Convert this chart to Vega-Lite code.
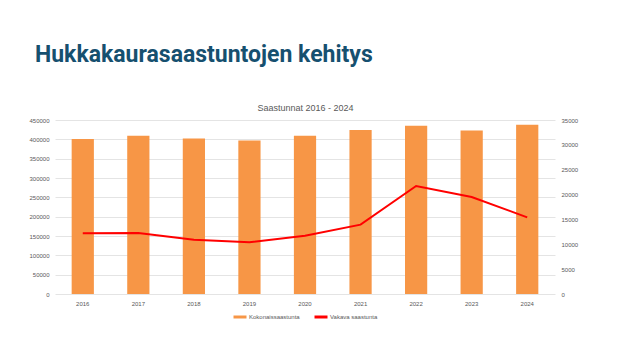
{
  "$schema": "https://vega.github.io/schema/vega-lite/v6.json",
  "background": "white",
  "padding": {"left": 28, "top": 44, "right": 10, "bottom": 10},
  "width": 500,
  "height": 174,
  "title": {
    "text": "Hukkakaurasaastuntojen kehitys",
    "anchor": "start",
    "frame": "bounds",
    "font": "Roboto",
    "fontSize": 23,
    "fontWeight": "bold",
    "color": "#16506F",
    "offset": 36,
    "dx": 6
  },
  "data": {
    "values": [
      {"vuosi": "2016", "kokonais": 401000, "vakava": 12200},
      {"vuosi": "2017", "kokonais": 409000, "vakava": 12270},
      {"vuosi": "2018", "kokonais": 402000, "vakava": 10930},
      {"vuosi": "2019", "kokonais": 397000, "vakava": 10390},
      {"vuosi": "2020", "kokonais": 409000, "vakava": 11730},
      {"vuosi": "2021", "kokonais": 424000, "vakava": 13950},
      {"vuosi": "2022", "kokonais": 435000, "vakava": 21720},
      {"vuosi": "2023", "kokonais": 423000, "vakava": 19510},
      {"vuosi": "2024", "kokonais": 438000, "vakava": 15420}
    ]
  },
  "layer": [
    {
      "mark": {"type": "bar", "color": "#F79646"},
      "encoding": {
        "x": {
          "field": "vuosi",
          "type": "ordinal",
          "title": null,
          "scale": {"paddingInner": 0.6, "paddingOuter": 0.3},
          "axis": {"labelAngle": 0, "domain": false, "ticks": false, "labelPadding": 6, "labelFontSize": 6, "labelColor": "#595959", "grid": false}
        },
        "y": {
          "field": "kokonais",
          "type": "quantitative",
          "title": null,
          "scale": {"domain": [0, 450000], "nice": false},
          "axis": {"values": [0, 50000, 100000, 150000, 200000, 250000, 300000, 350000, 400000, 450000], "format": "d", "domain": false, "ticks": false, "labelPadding": 6, "labelFontSize": 6, "labelColor": "#595959", "grid": true, "gridColor": "#E4E4E4"}
        },
        "color": {
          "datum": "Kokonaissaastunta",
          "type": "nominal",
          "scale": {"domain": ["Kokonaissaastunta", "Vakava saastunta"], "range": ["#F79646", "#FF0000"]},
          "legend": {
            "title": null,
            "orient": "bottom",
            "direction": "horizontal",
            "offset": 3,
            "labelFontSize": 6,
            "labelColor": "#595959",
            "symbolType": "stroke",
            "symbolSize": 169,
            "symbolStrokeWidth": 3,
            "columnPadding": 8,
            "labelOffset": 1
          }
        }
      }
    },
    {
      "mark": {"type": "line", "strokeWidth": 2},
      "encoding": {
        "x": {
          "field": "vuosi",
          "type": "ordinal",
          "axis": {"orient": "top", "labels": false, "ticks": false, "domain": false, "grid": false, "title": "Saastunnat 2016 - 2024", "titleFont": "Liberation Sans", "titleFontSize": 9, "titleFontWeight": "normal", "titleColor": "#595959", "titlePadding": 8}
        },
        "y": {
          "field": "vakava",
          "type": "quantitative",
          "title": null,
          "scale": {"domain": [0, 35000], "nice": false},
          "axis": {"orient": "right", "values": [0, 5000, 10000, 15000, 20000, 25000, 30000, 35000], "format": "d", "domain": false, "ticks": false, "labelPadding": 6, "labelFontSize": 6, "labelColor": "#595959", "grid": false}
        },
        "color": {"datum": "Vakava saastunta", "type": "nominal"}
      }
    }
  ],
  "resolve": {"scale": {"y": "independent"}, "axis": {"x": "independent"}},
  "config": {
    "view": {"stroke": null},
    "font": "Liberation Sans",
    "legend": {"layout": {"bottom": {"anchor": "middle"}}}
  }
}
